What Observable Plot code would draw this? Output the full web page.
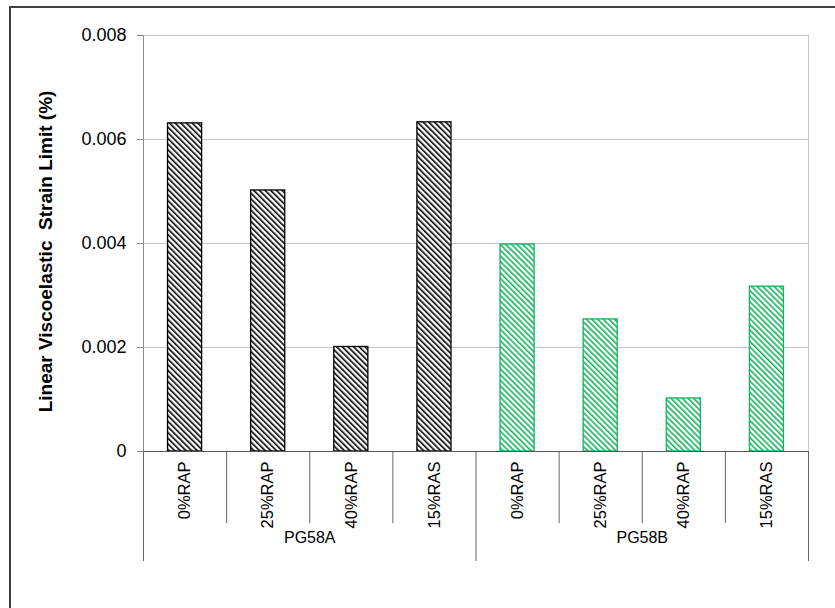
<!DOCTYPE html>
<html>
<head>
<meta charset="utf-8">
<script src="https://cdn.jsdelivr.net/npm/d3@7"></script>
<script src="https://cdn.jsdelivr.net/npm/@observablehq/plot@0.6"></script>
<style>
  html, body { margin: 0; padding: 0; background: #fff; }
  #wrap { position: relative; width: 835px; height: 608px; overflow: hidden; }
  #border { position: absolute; left: 9px; top: 6px; width: 900px; height: 700px;
            border-left: 2px solid #404040; border-top: 2px solid #404040; box-sizing: border-box; }
  #chart { position: absolute; left: 0; top: 0; }
</style>
</head>
<body>
<div id="wrap"><div id="border"></div><div id="chart"></div></div>
<script>
const groups = ["PG58A", "PG58B"];
const mixes = ["0%RAP", "25%RAP", "40%RAP", "15%RAS"];
const pg58a = [0.00631, 0.00502, 0.00201, 0.00633];
const pg58b = [0.00398, 0.00254, 0.00102, 0.00317];
const yTicks = [0, 0.002, 0.004, 0.006, 0.008];
const yLabel = "Linear Viscoelastic  Strain Limit (%)";

const seriesValues = [pg58a, pg58b];
const rows = [];
groups.forEach((g, gi) => mixes.forEach((m, mi) => {
  rows.push({group: g, mix: m, idx: gi * mixes.length + mi, value: seriesValues[gi][mi]});
}));
const n = rows.length;
const barPad = 0.295;
const boundaries = d3.range(n + 1);
const groupBounds = d3.range(groups.length + 1).map(i => i * mixes.length);
const groupCenters = groups.map((g, i) => ({group: g, c: i * mixes.length + mixes.length / 2}));

const font = "Liberation Sans, Arial, sans-serif";
const green = "#12b35a";

const plot = Plot.plot({
  width: 835,
  height: 608,
  marginLeft: 143,
  marginRight: 27,
  marginTop: 35,
  marginBottom: 157,
  style: {fontFamily: font, fontSize: "15px", background: "transparent", color: "#000"},
  x: {type: "linear", domain: [0, n], axis: null},
  y: {domain: [0, 0.008], axis: null},
  marks: [
    Plot.ruleY(yTicks.filter(d => d > 0), {y: d => d, x1: 0, x2: n, stroke: "#c4c4c4", strokeWidth: 1}),
    Plot.ruleX([n], {x: d => d, y1: 0, y2: 0.008, stroke: "#c4c4c4"}),
    Plot.ruleX([0], {x: d => d, y1: 0, y2: 0.008, stroke: "#8a8a8a"}),
    Plot.axisY({ticks: yTicks, tickSize: 6, tickPadding: 11, stroke: "#8a8a8a",
      tickFormat: d => d === 0 ? "0" : d.toFixed(3), fontSize: 18, label: null, color: "#000"}),
    Plot.text([yLabel], {text: d => d, frameAnchor: "left", textAnchor: "middle", dx: -98, dy: 8, rotate: -90,
      fontWeight: "bold", fontSize: 19, fill: "#000"}),
    Plot.rect(rows.filter(d => d.group === groups[0]), {
      x1: d => d.idx + barPad, x2: d => d.idx + 1 - barPad, y1: 0, y2: "value",
      fill: "url(#hatchA)", stroke: "#000", strokeWidth: 1.3
    }),
    Plot.rect(rows.filter(d => d.group === groups[1]), {
      x1: d => d.idx + barPad, x2: d => d.idx + 1 - barPad, y1: 0, y2: "value",
      fill: "url(#hatchB)", stroke: green, strokeWidth: 1.3
    }),
    Plot.ruleY([0], {y: d => d, x1: 0, x2: n, stroke: "#555"}),
    Plot.ruleX(boundaries.filter(b => !groupBounds.includes(b)), {x: d => d, y1: 0, y2: 0, insetBottom: -72, stroke: "#666"}),
    Plot.ruleX(groupBounds, {x: d => d, y1: 0, y2: 0, insetBottom: -110, stroke: "#666"}),
    Plot.text(rows, {x: d => d.idx + 0.5, y: 0, text: "mix", rotate: -90, textAnchor: "end",
      dy: 10, fontSize: 16.5, fill: "#000"}),
    Plot.text(groupCenters, {x: "c", y: 0, text: "group", dy: 86, fontSize: 16, fill: "#000"})
  ]
});

const ns = "http://www.w3.org/2000/svg";
const defs = document.createElementNS(ns, "defs");
defs.innerHTML = `
  <pattern id="hatchA" patternUnits="userSpaceOnUse" width="4" height="4" patternTransform="rotate(-45)">
    <rect width="4" height="4" fill="#fff"/>
    <rect x="0" y="0" width="1.6" height="4" fill="#000"/>
  </pattern>
  <pattern id="hatchB" patternUnits="userSpaceOnUse" width="4" height="4" patternTransform="rotate(-45)">
    <rect width="4" height="4" fill="#fff"/>
    <rect x="0" y="0" width="1.6" height="4" fill="${green}"/>
  </pattern>`;
plot.insertBefore(defs, plot.firstChild);
document.getElementById("chart").appendChild(plot);
</script>
</body>
</html>
